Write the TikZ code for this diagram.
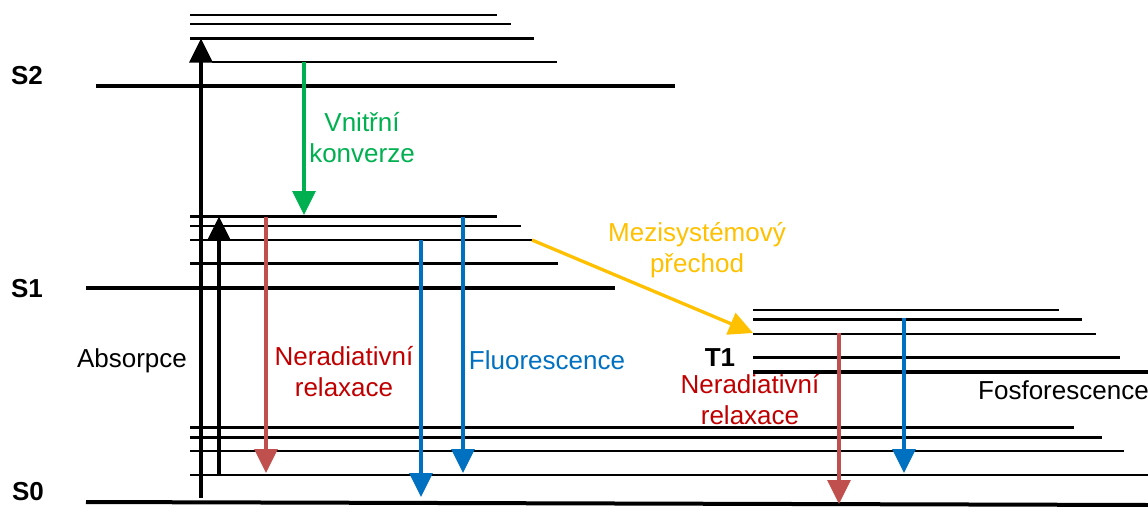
\documentclass[tikz,border=0pt]{standalone}
\usepackage{fontspec}
\setmainfont{Liberation Sans}
\usetikzlibrary{arrows.meta}
\definecolor{cgreen}{HTML}{00B050}
\definecolor{cred}{HTML}{C0504D}
\definecolor{ctred}{HTML}{C00000}
\definecolor{cblue}{HTML}{0070C0}
\definecolor{cyellow}{HTML}{FFC000}
\tikzset{
  lvl/.style={line width=2.3pt},
  slvl/.style={line width=4pt},
  trans/.style={line width=3.3pt,-{Triangle[width=23pt,length=24pt]}},
  lbl/.style={inner sep=0pt,font=\fontsize{26}{31}\selectfont,align=center},
  slbl/.style={inner sep=0pt,text depth=0pt,font=\fontsize{26}{31}\selectfont\bfseries},
}
\begin{document}
\begin{tikzpicture}[x=1pt,y=-1pt]
\useasboundingbox (0,0) rectangle (1148,506);
% S2
\draw[lvl] (190,15) -- (497,15);
\draw[lvl] (190,24) -- (511,24);
\draw[lvl] (190,38.5) -- (534,38.5);
\draw[lvl] (212,62) -- (557,62);
\draw[slvl] (96,86) -- (675,86);
% S1
\draw[lvl] (190,216.5) -- (497,216.5);
\draw[lvl] (190,226) -- (521,226);
\draw[lvl] (190,240) -- (532,240);
\draw[lvl] (190,263.5) -- (558,263.5);
\draw[slvl] (86,287.5) -- (615,287.5);
% T1
\draw[lvl] (753,310) -- (1059,310);
\draw[lvl] (753,319.5) -- (1082,319.5);
\draw[lvl] (753,334) -- (1096,334);
\draw[lvl] (753,357.5) -- (1120,357.5);
\draw[slvl] (753,371.5) -- (1148,371.5);
% S0
\draw[lvl] (190,427.5) -- (1074,427.5);
\draw[lvl] (190,437.5) -- (1102,437.5);
\draw[lvl] (190,451) -- (1124,451);
\draw[lvl] (190,475) -- (1148,475);
\draw[slvl] (86,502) -- (1148,505);
% labels
\node[slbl] (s2) at (27,75) {S2};
\node[slbl] (s1) at (27,288) {S1};
\node[slbl] (s0) at (28,491) {S0};
\node[slbl] (t1) at (720,358) {T1};
\node[lbl] (abs) at (132,361) {Absorpce};
\node[lbl,text=ctred] (nr1) at (344,372) {Neradiativní\\relaxace};
\node[lbl,text=cblue] (fl) at (547,360) {Fluorescence};
\node[lbl,text=cgreen] (ic) at (362,138) {Vnitřní\\konverze};
\node[lbl,text=cyellow] (isc) at (697,250) {Mezisystémový\\přechod};
\node[lbl,text=ctred] (nr2) at (750,400) {Neradiativní\\relaxace};
\node[lbl,anchor=west] (ph) at (978,390) {Fosforescence};
% arrow end points
\coordinate (a1s) at (201,498); \coordinate (a1e) at (201,38.5);
\coordinate (a2s) at (219,476); \coordinate (a2e) at (219,216.5);
\coordinate (gs) at (304,62);   \coordinate (ge) at (304,215);
\coordinate (r1s) at (266,216.5); \coordinate (r1e) at (266,473);
\coordinate (b1s) at (421,240); \coordinate (b1e) at (421,497);
\coordinate (b2s) at (463,216.5); \coordinate (b2e) at (463,473);
\coordinate (ys) at (532,240);  \coordinate (ye) at (753,333);
\coordinate (r2s) at (839,333); \coordinate (r2e) at (839,504);
\coordinate (b3s) at (904,318); \coordinate (b3e) at (904,473);
% transitions
\draw[trans] (a1s) -- (a1e);
\draw[trans] (a2s) -- (a2e);
\draw[trans,cgreen] (gs) -- (ge);
\draw[trans,cred] (r1s) -- (r1e);
\draw[trans,cblue] (b1s) -- (b1e);
\draw[trans,cblue] (b2s) -- (b2e);
\draw[trans,cyellow] (ys) -- (ye);
\draw[trans,cred] (r2s) -- (r2e);
\draw[trans,cblue] (b3s) -- (b3e);
\end{tikzpicture}
\end{document}
